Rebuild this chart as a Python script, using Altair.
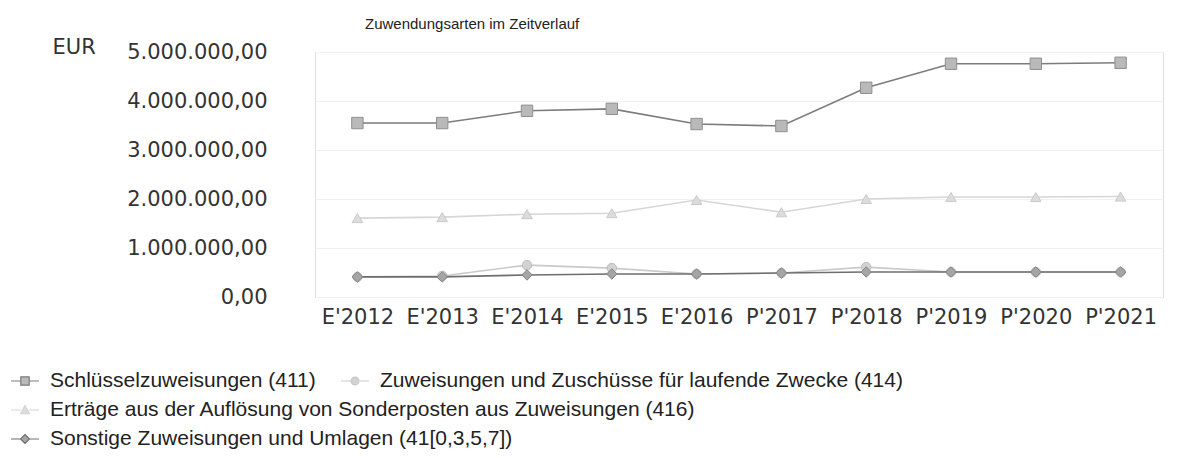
import altair as alt
import pandas as pd

years = ["E'2012", "E'2013", "E'2014", "E'2015", "E'2016",
         "P'2017", "P'2018", "P'2019", "P'2020", "P'2021"]

names = [
    "Schlüsselzuweisungen (411)",
    "Zuweisungen und Zuschüsse für laufende Zwecke (414)",
    "Erträge aus der Auflösung von Sonderposten aus Zuweisungen (416)",
    "Sonstige Zuweisungen und Umlagen (41[0,3,5,7])",
]

s411 = [3550000, 3550000, 3800000, 3840000, 3530000, 3490000, 4270000, 4760000, 4760000, 4780000]
s414 = [410000, 430000, 650000, 590000, 470000, 490000, 610000, 510000, 510000, 510000]
s416 = [1610000, 1630000, 1690000, 1710000, 1980000, 1730000, 2000000, 2040000, 2040000, 2050000]
s41x = [410000, 410000, 450000, 470000, 470000, 490000, 510000, 510000, 510000, 510000]

series_values = [s411, s414, s416, s41x]

line_colors = ["#7c7c7c", "#c9c9c9", "#d6d6d6", "#6e6e6e"]
marker_fill = ["#b9b9b9", "#d2d2d2", "#dcdcdc", "#a5a5a5"]
marker_stroke = ["#8f8f8f", "#bdbdbd", "#cacaca", "#858585"]
marker_shapes = ["square", "circle", "triangle-up", "diamond"]
marker_sizes = [130, 90, 110, 110]

legend_paths = [
    "M-1,0H-0.3M0.3,0H1M-0.3,-0.3H0.3V0.3H-0.3Z",
    "M-1,0H-0.28M0.28,0H1M-0.28,0A0.28,0.28 0 1,0 0.28,0A0.28,0.28 0 1,0 -0.28,0Z",
    "M-1,0H-0.3M0.3,0H1M0,-0.32L0.32,0.26H-0.32Z",
    "M-1,0H-0.32M0.32,0H1M0,-0.32L0.32,0L0,0.32L-0.32,0Z",
]
legend_xy = [(-305, 314), (25, 314), (-305, 343), (-305, 372)]

x_enc = alt.X(
    "year:O", sort=years, title=None,
    scale=alt.Scale(type="point", padding=0.5, domain=years),
    axis=alt.Axis(labelAngle=0, labelFont="DejaVu Sans", labelFontSize=21,
                  labelColor="#333333", ticks=False, tickSize=0, domain=False,
                  grid=False, labelPadding=9),
)
y_enc = alt.Y(
    "value:Q",
    scale=alt.Scale(domain=[0, 5000000], nice=False),
    axis=alt.Axis(values=[0, 1000000, 2000000, 3000000, 4000000, 5000000],
                  format=",.2f", labelFont="DejaVu Sans", labelFontSize=21,
                  labelColor="#333333", ticks=False, tickSize=0, domain=False,
                  grid=True, gridColor="#f1f1f1", labelPadding=48,
                  title="EUR", titleAngle=0, titleAlign="left",
                  titleBaseline="middle", titleX=-263, titleY=-5,
                  titleFont="DejaVu Sans", titleFontSize=21,
                  titleFontWeight="normal", titleColor="#333333"),
)

layers = []
for i, name in enumerate(names):
    df = pd.DataFrame({"year": years, "value": series_values[i], "series": name})
    lx, ly = legend_xy[i]
    line = alt.Chart(df).mark_line(strokeWidth=1.6).encode(
        x=x_enc, y=y_enc,
        color=alt.Color(
            "series:N",
            scale=alt.Scale(domain=[name], range=[line_colors[i]]),
            legend=alt.Legend(
                orient="none", legendX=lx, legendY=ly, title=None,
                symbolType=legend_paths[i], symbolSize=784,
                symbolStrokeWidth=1.2, labelFont="Liberation Sans",
                labelFontSize=21, labelColor="#222222", labelOffset=10,
                labelLimit=0, padding=0,
                symbolFillColor=marker_fill[i],
                symbolStrokeColor=line_colors[i],
            ),
        ),
    )
    pts = alt.Chart(df).mark_point(
        shape=marker_shapes[i], filled=True, size=marker_sizes[i],
        fill=marker_fill[i], stroke=marker_stroke[i], strokeWidth=1,
        opacity=1,
    ).encode(x=x_enc, y=y_enc)
    layers += [line, pts]

chart = alt.layer(*layers).resolve_scale(color="independent").properties(
    width=848, height=245,
    autosize=alt.AutoSizeParams(type="none"),
    padding={"left": 307, "top": 44, "right": 21, "bottom": 156},
    title=alt.TitleParams(
        "Zuwendungsarten im Zeitverlauf", anchor="start", frame="group",
        dx=50, font="Liberation Sans", fontSize=15, fontWeight="normal",
        color="#222222", offset=4,
    ),
).configure_view(stroke=None).configure(
    locale={"number": {"decimal": ",", "thousands": ".", "grouping": [3],
                       "currency": ["", " €"]}}
)

chart.save("out.html", embed_options={"renderer": "svg", "actions": False})
